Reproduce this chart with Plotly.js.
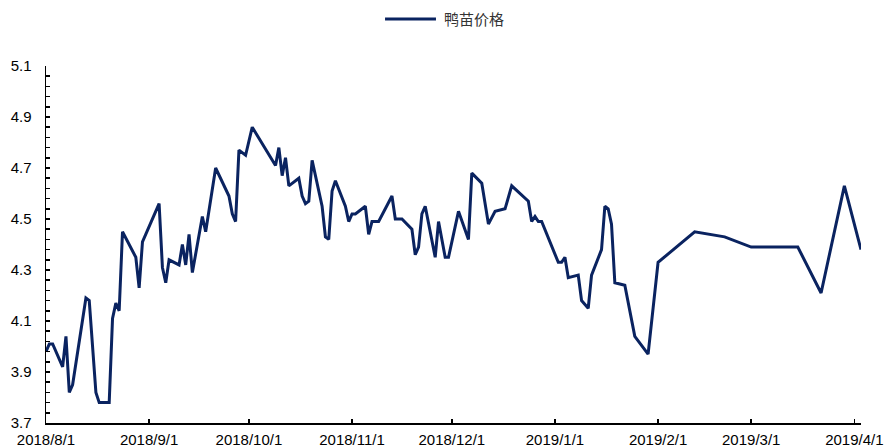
<!DOCTYPE html>
<html>
<head>
<meta charset="utf-8">
<script src="https://cdn.plot.ly/plotly-3.0.1.min.js"></script>
<style>html,body{margin:0;padding:0;background:#fff;}#chart{width:887px;height:448px;}</style>
</head>
<body>
<div id="chart"></div>
<script>
const seriesName = '鸭苗价格';
const dates = [
  '2018-08-01','2018-08-02','2018-08-03','2018-08-06','2018-08-07','2018-08-08','2018-08-09','2018-08-13','2018-08-14','2018-08-16',
  '2018-08-17','2018-08-20','2018-08-21','2018-08-22','2018-08-23','2018-08-24','2018-08-28','2018-08-29','2018-08-30','2018-09-04',
  '2018-09-05','2018-09-06','2018-09-07','2018-09-10','2018-09-11','2018-09-12','2018-09-13','2018-09-14','2018-09-17','2018-09-18',
  '2018-09-21','2018-09-25','2018-09-26','2018-09-27','2018-09-28','2018-09-30','2018-10-02','2018-10-09','2018-10-10','2018-10-11',
  '2018-10-12','2018-10-13','2018-10-16','2018-10-17','2018-10-18','2018-10-19','2018-10-20','2018-10-23','2018-10-24','2018-10-25',
  '2018-10-26','2018-10-27','2018-10-30','2018-10-31','2018-11-01','2018-11-02','2018-11-05','2018-11-06','2018-11-07','2018-11-09',
  '2018-11-13','2018-11-14','2018-11-16','2018-11-19','2018-11-20','2018-11-21','2018-11-22','2018-11-23','2018-11-26','2018-11-27',
  '2018-11-29','2018-11-30','2018-12-03','2018-12-06','2018-12-07','2018-12-10','2018-12-12','2018-12-14','2018-12-17','2018-12-19',
  '2018-12-24','2018-12-25','2018-12-26','2018-12-27','2018-12-28','2019-01-02','2019-01-03','2019-01-04','2019-01-05','2019-01-08',
  '2019-01-09','2019-01-11','2019-01-12','2019-01-15','2019-01-16','2019-01-17','2019-01-18','2019-01-19','2019-01-22','2019-01-25',
  '2019-01-29','2019-02-01','2019-02-12','2019-02-21','2019-03-01','2019-03-15','2019-03-22','2019-03-29','2019-04-03'
];
const prices = [
  3.98,4.01,4.01,3.92,4.04,3.82,3.85,4.19,4.18,3.82,
  3.78,3.78,4.11,4.17,4.14,4.45,4.35,4.23,4.41,4.56,
  4.31,4.25,4.34,4.32,4.40,4.32,4.44,4.29,4.51,4.45,
  4.70,4.59,4.52,4.49,4.77,4.75,4.86,4.71,4.78,4.67,
  4.74,4.63,4.66,4.59,4.56,4.57,4.73,4.55,4.43,4.42,
  4.61,4.65,4.55,4.49,4.52,4.52,4.55,4.44,4.49,4.49,
  4.59,4.50,4.50,4.46,4.36,4.39,4.52,4.55,4.35,4.49,
  4.35,4.35,4.53,4.42,4.68,4.64,4.48,4.53,4.54,4.63,
  4.57,4.49,4.51,4.49,4.49,4.33,4.33,4.35,4.27,4.28,
  4.18,4.15,4.28,4.38,4.55,4.54,4.48,4.25,4.24,4.04,
  3.97,4.33,4.45,4.43,4.39,4.39,4.21,4.63,4.38
];
const xTickVals = ['2018-08-01','2018-09-01','2018-10-01','2018-11-01','2018-12-01','2019-01-01','2019-02-01','2019-03-01','2019-04-01'];
const xTickText = ['2018/8/1','2018/9/1','2018/10/1','2018/11/1','2018/12/1','2019/1/1','2019/2/1','2019/3/1','2019/4/1'];
const yTickVals = [3.7,3.9,4.1,4.3,4.5,4.7,4.9,5.1];
const yTickText = ['3.7','3.9','4.1','4.3','4.5','4.7','4.9','5.1'];

const lineColor = '#0a2360';
const trace = {
  x: dates, y: prices, type: 'scatter', mode: 'lines', name: seriesName,
  line: {color: lineColor, width: 3}, showlegend: false
};
// legend key drawn at the top (line sample + label)
const legendY = 1.132;
const layout = {
  width: 887, height: 448,
  margin: {l: 46, r: 26, t: 66, b: 25},
  paper_bgcolor: '#fff', plot_bgcolor: '#fff',
  font: {family: '"Liberation Sans", Arial, sans-serif', size: 15, color: '#000'},
  showlegend: false,
  shapes: [{
    type: 'line', xref: 'paper', yref: 'paper',
    x0: 0.416, x1: 0.4785, y0: legendY, y1: legendY,
    line: {color: lineColor, width: 3}
  }],
  annotations: [{
    text: seriesName, xref: 'paper', yref: 'paper',
    x: 0.4865, y: legendY, xanchor: 'left', yanchor: 'middle', showarrow: false,
    font: {family: '"Noto Sans CJK SC", sans-serif', size: 15, color: '#333'}
  }],
  xaxis: {
    type: 'date', range: ['2018-08-01', '2019-04-03'],
    tickmode: 'array', tickvals: xTickVals, ticktext: xTickText,
    ticks: 'inside', ticklen: 4, tickwidth: 1.5, tickcolor: '#000',
    showline: true, linecolor: '#000', linewidth: 1.5,
    showgrid: false, zeroline: false, ticklabelstandoff: 2
  },
  yaxis: {
    range: [3.7, 5.1],
    tickmode: 'array', tickvals: yTickVals, ticktext: yTickText,
    ticks: 'inside', ticklen: 4, tickwidth: 1.5, tickcolor: '#000',
    minor: {ticks: 'inside', tick0: 3.7, dtick: 0.04, ticklen: 4, tickwidth: 1.5, tickcolor: '#000', showgrid: false},
    showline: true, linecolor: '#000', linewidth: 1.5,
    showgrid: false, zeroline: false, ticklabelstandoff: 10
  }
};
Plotly.newPlot('chart', [trace], layout, {displayModeBar: false, staticPlot: true});
</script>
</body>
</html>
